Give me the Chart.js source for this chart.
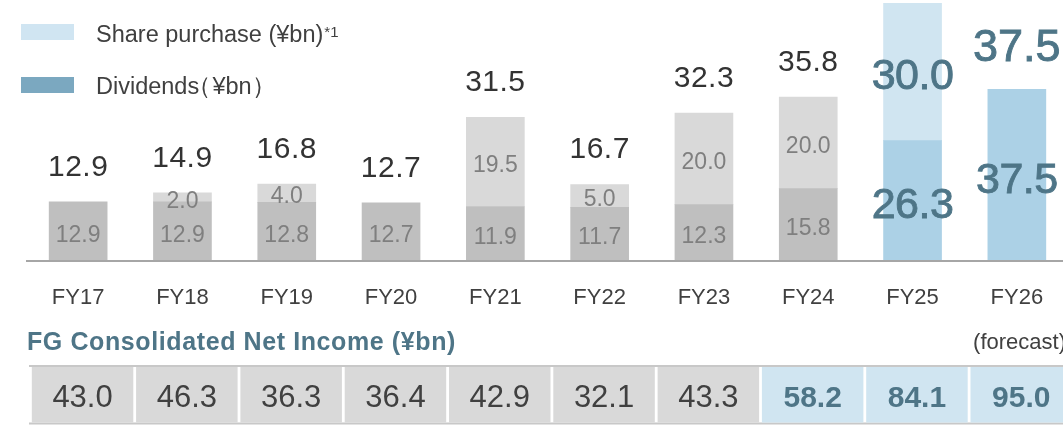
<!DOCTYPE html>
<html>
<head>
<meta charset="utf-8">
<title>Shareholder returns</title>
<script src="https://cdn.jsdelivr.net/npm/chart.js@4.4.1/dist/chart.umd.min.js"></script>
<style>
  html, body { margin: 0; padding: 0; background: #fff; overflow: hidden; }
  #wrap { position: absolute; left: 0; top: 0; width: 1069px; height: 426px; }
</style>
</head>
<body>
<div id="wrap"><canvas id="returnChart"></canvas></div>
<script>
// Data (¥bn)
const categories = ['FY17', 'FY18', 'FY19', 'FY20', 'FY21', 'FY22', 'FY23', 'FY24', 'FY25', 'FY26'];
const dividends = [12.9, 12.9, 12.8, 12.7, 11.9, 11.7, 12.3, 15.8, 26.3, 37.5];
const sharePurchase = [null, 2.0, 4.0, null, 19.5, 5.0, 20.0, 20.0, 30.0, null];
const totalLabels = [12.9, 14.9, 16.8, 12.7, 31.5, 16.7, 32.3, 35.8, null, 37.5];
const netIncome = [43.0, 46.3, 36.3, 36.4, 42.9, 32.1, 43.3, 58.2, 84.1, 95.0];

const FONT = '"Liberation Sans", Arial, sans-serif';
const TEXT_BLUE = '#4e7587';
const BLUE_BARS_FROM = 8;   // FY25 onwards drawn in blue
const BLUE_CELLS_FROM = 7;  // net income cells from FY24 drawn in blue

// draws text so that the middle of the capitals sits on capY
function drawText(ctx, text, x, capY, size, color, opts = {}) {
    ctx.save();
    ctx.font = (opts.bold ? 'bold ' : '') + size + 'px ' + FONT;
    ctx.fillStyle = color;
    ctx.textAlign = opts.align || 'center';
    ctx.textBaseline = 'alphabetic';
    if ('letterSpacing' in ctx) ctx.letterSpacing = (opts.spacing || 0) + 'px';
    const m = ctx.measureText(text);
    if (opts.inkLeft != null) x = opts.inkLeft + m.actualBoundingBoxLeft;
    ctx.fillText(text, x, capY + 0.358 * size);
    if (opts.stroke) {
        ctx.strokeStyle = color;
        ctx.lineWidth = opts.stroke;
        ctx.strokeText(text, x, capY + 0.358 * size);
    }
    ctx.restore();
    return { width: m.width, inkRight: x + m.actualBoundingBoxRight };
}

const labelPlugin = {
    id: 'returnLabels',
    afterDatasetsDraw(chart) {
        const ctx = chart.ctx;
        const xs = chart.scales.x;
        const ys = chart.scales.y;
        const area = chart.chartArea;
        const step = (area.right - area.left) / categories.length;
        const base = ys.getPixelForValue(0);

        // baseline
        ctx.save();
        ctx.fillStyle = '#a6a6a6';
        ctx.fillRect(area.left, base - 1, chart.width - area.left, 2);
        ctx.restore();

        // values inside each segment
        chart.data.datasets.forEach((ds, d) => {
            const meta = chart.getDatasetMeta(d);
            ds.data.forEach((v, i) => {
                if (v == null) return;
                const el = meta.data[i];
                const mid = (el.y + el.base) / 2 + 2;
                if (i >= BLUE_BARS_FROM) {
                    drawText(ctx, v.toFixed(1), el.x, mid, 43, TEXT_BLUE, { spacing: -0.5, stroke: 0.9 });
                } else {
                    drawText(ctx, v.toFixed(1), el.x, mid, 23, '#7f7f7f');
                }
            });
        });

        // totals above the bars
        totalLabels.forEach((t, i) => {
            if (t == null) return;
            const top = ys.getPixelForValue(dividends[i] + (sharePurchase[i] || 0));
            const cx = xs.getPixelForValue(i);
            if (i >= BLUE_BARS_FROM) {
                drawText(ctx, t.toFixed(1), cx, top - 44, 45, TEXT_BLUE, { stroke: 0.9 });
            } else {
                drawText(ctx, t.toFixed(1), cx, top - 37, 30, '#333333', { spacing: 0.5 });
            }
        });

        // category labels
        categories.forEach((c, i) => {
            drawText(ctx, c, xs.getPixelForValue(i), 296, 22, '#404040');
        });

        // net income table
        drawText(ctx, 'FG Consolidated Net Income (¥bn)', 27, 341, 25, TEXT_BLUE, { bold: true, align: 'left', spacing: 0.6 });
        drawText(ctx, '(forecast)', 1066, 341, 22, '#404040', { align: 'right' });

        ctx.save();
        ctx.fillStyle = '#c8c8c8';
        ctx.fillRect(29, 365, chart.width - 29, 2);
        ctx.fillRect(29, 422.5, chart.width - 29, 2);
        netIncome.forEach((v, i) => {
            const catLeft = xs.getPixelForValue(i) - step / 2;
            const left = catLeft + 5.8;
            const right = catLeft + step + 3;
            const blue = i >= BLUE_CELLS_FROM;
            ctx.fillStyle = blue ? '#d0e5f1' : '#d9d9d9';
            ctx.fillRect(left, 367, right - left, 55.5);
            if (blue) {
                drawText(ctx, v.toFixed(1), (left + right) / 2, 396, 30, TEXT_BLUE, { bold: true });
            } else {
                drawText(ctx, v.toFixed(1), (left + right) / 2, 396, 31, '#404040');
            }
        });
        ctx.restore();

        // legend
        ctx.save();
        ctx.fillStyle = '#d0e5f2';
        ctx.fillRect(21, 24, 53, 16);
        ctx.fillStyle = '#7ba8c0';
        ctx.fillRect(21, 77, 53, 16);
        ctx.restore();
        const share = drawText(ctx, 'Share purchase (¥bn)', 96, 33.5, 23.5, '#404040', { align: 'left' });
        ctx.save();
        ctx.font = '15px ' + FONT;
        ctx.fillStyle = '#404040';
        ctx.fillText('*1', 96 + share.width + 1, 37);
        ctx.restore();
        // full-width brackets are set tight against the word
        const divTxt = drawText(ctx, 'Dividends', 96, 85.5, 23.5, '#404040', { align: 'left' });
        const open = drawText(ctx, '（', 0, 85.5, 23.5, '#404040', { align: 'left', inkLeft: divTxt.inkRight + 4 });
        const unit = drawText(ctx, '¥bn', 0, 85.5, 23.5, '#404040', { align: 'left', inkLeft: open.inkRight + 3 });
        drawText(ctx, '）', 0, 85.5, 23.5, '#404040', { align: 'left', inkLeft: unit.inkRight + 4 });
    }
};

const ctx = document.getElementById('returnChart').getContext('2d');
new Chart(ctx, {
    type: 'bar',
    data: {
        labels: categories,
        datasets: [
            {
                label: 'Dividends (¥bn)',
                data: dividends,
                backgroundColor: dividends.map((v, i) => i >= BLUE_BARS_FROM ? '#acd1e6' : '#bfbfbf'),
                borderWidth: 0,
                barThickness: 58
            },
            {
                label: 'Share purchase (¥bn)',
                data: sharePurchase,
                backgroundColor: sharePurchase.map((v, i) => i >= BLUE_BARS_FROM ? '#d0e5f1' : '#d9d9d9'),
                borderWidth: 0,
                barThickness: 58
            }
        ]
    },
    options: {
        responsive: true,
        maintainAspectRatio: false,
        animation: false,
        layout: { padding: { left: 26, right: 0, top: 0, bottom: 165 } },
        plugins: {
            legend: { display: false },
            tooltip: { enabled: false }
        },
        scales: {
            x: { display: false, stacked: true },
            y: { display: false, stacked: true, min: 0, max: 57 }
        }
    },
    plugins: [labelPlugin]
});
</script>
</body>
</html>
